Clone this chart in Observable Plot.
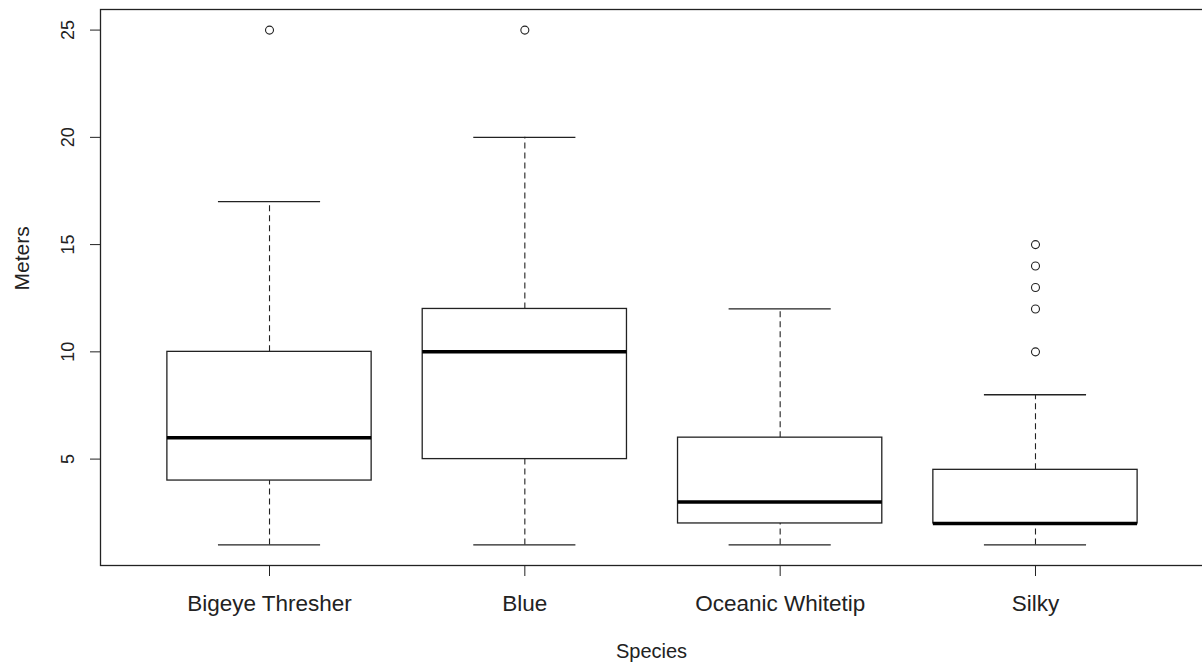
<!DOCTYPE html>
<html>
<head>
<meta charset="utf-8">
<script src="https://cdn.jsdelivr.net/npm/d3@7"></script>
<script src="https://cdn.jsdelivr.net/npm/@observablehq/plot@0.6"></script>
<style>
  html, body { margin: 0; padding: 0; background: #fff; overflow: hidden; }
  #chart { width: 1202px; height: 665px; overflow: hidden; }
  #chart svg { overflow: hidden; }
</style>
</head>
<body>
<div id="chart"></div>
<script>
// ---- data ----
const species = ["Bigeye Thresher", "Blue", "Oceanic Whitetip", "Silky"];
const whiskerLow = [1, 1, 1, 1];
const q1 = [4, 5, 2, 2];
const median = [6, 10, 3, 2];
const q3 = [10, 12, 6, 4.5];
const whiskerHigh = [17, 20, 12, 8];
const outlierSpecies = ["Bigeye Thresher", "Blue", "Silky", "Silky", "Silky", "Silky", "Silky"];
const outlierValues = [25, 25, 10, 12, 13, 14, 15];
const yTicks = [5, 10, 15, 20, 25];
const xTitle = "Species";
const yTitle = "Meters";

// ---- derived tables ----
const boxes = species.map((s, i) => ({
  species: s, pos: i + 1,
  lo: whiskerLow[i], q1: q1[i], med: median[i], q3: q3[i], hi: whiskerHigh[i]
}));
const outliers = outlierValues.map((v, i) => ({
  pos: species.indexOf(outlierSpecies[i]) + 1, value: v
}));

const ink = "#222";
const boxHalf = 0.4, capHalf = 0.2;

const chart = Plot.plot({
  width: 1202,
  height: 665,
  marginLeft: 100,
  marginRight: 0,
  marginTop: 9,
  marginBottom: 100,
  style: { fontFamily: "'Liberation Sans', Arial, sans-serif", color: ink, background: "#fff", overflow: "hidden" },
  x: { domain: [0.34, 4.66], range: [100.5, 1203.5] },
  y: { domain: [0.04, 25.96] },
  marks: [
    Plot.frame({ stroke: ink, strokeWidth: 1.3, insetRight: -4 }),
    // whiskers (dashed)
    Plot.ruleX(boxes, { x: "pos", y1: "q3", y2: "hi", stroke: ink, strokeWidth: 1.1, strokeDasharray: "6,4" }),
    Plot.ruleX(boxes, { x: "pos", y1: "lo", y2: "q1", stroke: ink, strokeWidth: 1.1, strokeDasharray: "6,4" }),
    // caps
    Plot.ruleY(boxes, { y: "hi", x1: d => d.pos - capHalf, x2: d => d.pos + capHalf, stroke: ink, strokeWidth: 1.3 }),
    Plot.ruleY(boxes, { y: "lo", x1: d => d.pos - capHalf, x2: d => d.pos + capHalf, stroke: ink, strokeWidth: 1.3 }),
    // boxes
    Plot.rect(boxes, { x1: d => d.pos - boxHalf, x2: d => d.pos + boxHalf, y1: "q1", y2: "q3", fill: "white", stroke: ink, strokeWidth: 1.3 }),
    // medians
    Plot.ruleY(boxes, { y: "med", x1: d => d.pos - boxHalf, x2: d => d.pos + boxHalf, stroke: "#000", strokeWidth: 3.5 }),
    // outliers
    Plot.dot(outliers, { x: "pos", y: "value", r: 4, stroke: ink, strokeWidth: 1.1, fill: "none" }),
    // axes
    Plot.axisY({ ticks: yTicks, tickSize: 10, tickPadding: 17, tickRotate: -90, fontSize: 18, label: null, stroke: ink }),
    Plot.axisX({ ticks: [1, 2, 3, 4], tickFormat: d => species[d - 1], tickSize: 11, tickPadding: 19, fontSize: 22.5, label: null, stroke: ink }),
    // axis titles
    Plot.text([xTitle], { frameAnchor: "bottom", lineAnchor: "bottom", dy: 92, fontSize: 20, fill: ink }),
    Plot.text([yTitle], { frameAnchor: "left", lineAnchor: "bottom", rotate: -90, dx: -72, dy: 3, fontSize: 21, fill: ink })
  ]
});
document.getElementById("chart").appendChild(chart);
</script>
</body>
</html>
